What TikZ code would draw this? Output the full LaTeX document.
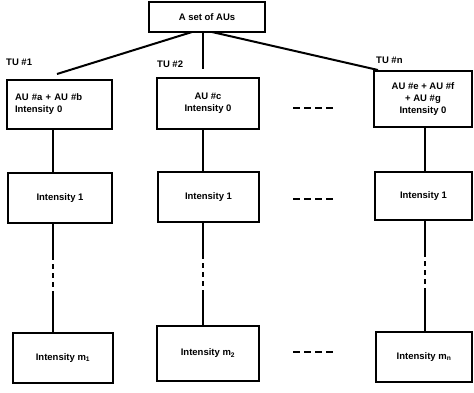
\documentclass[tikz,border=0pt]{standalone}
\usepackage{fontspec}
\setmainfont{Liberation Sans}
\begin{document}
\begin{tikzpicture}[x=1pt,y=-1pt,
  box/.style={draw,line width=2pt,inner sep=0pt,font=\fontsize{9.5}{12}\selectfont\bfseries,align=center},
  link/.style={line width=2pt},
  tulabel/.style={font=\fontsize{9.5}{11}\selectfont\bfseries,anchor=west,inner sep=0pt},
  gap/.style={line width=1.5pt,dash pattern=on 7pt off 4pt},
  broken/.style={line width=2pt,dash pattern=on 36pt off 4pt on 5pt off 4pt on 5pt off 4pt on 5pt off 4pt on 80pt}]
\useasboundingbox (0,0) rectangle (474,392);
% top
\node[box,minimum width=116pt,minimum height=30pt] (top) at (207,17) {A set of AUs};
% TU boxes
\node[box,minimum width=105pt,minimum height=49pt,align=left,text width=89pt] (tu1) at (59.5,104.5) {AU \#a + AU \#b\\Intensity 0};
\node[box,minimum width=102pt,minimum height=51pt] (tu2) at (208,103.5) {AU \#c\\Intensity 0};
\node[box,minimum width=98pt,minimum height=56pt] (tun) at (423,99) {AU \#e + AU \#f\\+ AU \#g\\Intensity 0};
% labels
\node[tulabel] (l1) at (6,62) {TU \#1};
\node[tulabel] (l2) at (157,64) {TU \#2};
\node[tulabel] (ln) at (376,60) {TU \#n};
% row 2
\node[box,minimum width=104pt,minimum height=50pt] (r2a) at (60,198) {Intensity 1};
\node[box,minimum width=101pt,minimum height=50pt] (r2b) at (208.5,197) {Intensity 1};
\node[box,minimum width=97pt,minimum height=48pt] (r2c) at (423.5,196) {Intensity 1};
% row 3
\node[box,minimum width=100pt,minimum height=50pt] (r3a) at (63,358) {Intensity m\textsubscript{1}};
\node[box,minimum width=102pt,minimum height=55pt] (r3b) at (208,353.5) {Intensity m\textsubscript{2}};
\node[box,minimum width=96pt,minimum height=50pt] (r3c) at (424,357) {Intensity m\textsubscript{n}};
% links from top
\coordinate (s1) at (192,32);
\coordinate (s2) at (203,32);
\coordinate (sn) at (212,32);
\coordinate (e1) at (57,74);
\coordinate (e2) at (203,69);
\coordinate (en) at (378,70);
\draw[link] (s1) -- (e1);
\draw[link] (s2) -- (e2);
\draw[link] (sn) -- (en);
% verticals
\draw[link] ([xshift=-6.5pt]tu1.south) -- ([xshift=-6.5pt]tu1.south |- r2a.north);
\draw[link] ([xshift=-5pt]tu2.south) -- ([xshift=-5pt]tu2.south |- r2b.north);
\draw[link] ([xshift=2pt]tun.south) -- ([xshift=2pt]tun.south |- r2c.north);
\draw[broken] ([xshift=-7pt]r2a.south) -- ([xshift=-7pt]r2a.south |- r3a.north);
\draw[broken] ([xshift=-5.5pt]r2b.south) -- ([xshift=-5.5pt]r2b.south |- r3b.north);
\draw[broken] ([xshift=1.5pt]r2c.south) -- ([xshift=1.5pt]r2c.south |- r3c.north);
% ellipsis dashes
\coordinate (d1a) at (293,108); \coordinate (d1b) at (336,108);
\coordinate (d2a) at (293,199); \coordinate (d2b) at (336,199);
\coordinate (d3a) at (293,352); \coordinate (d3b) at (336,352);
\draw[gap] (d1a) -- (d1b);
\draw[gap] (d2a) -- (d2b);
\draw[gap] (d3a) -- (d3b);
\end{tikzpicture}
\end{document}
